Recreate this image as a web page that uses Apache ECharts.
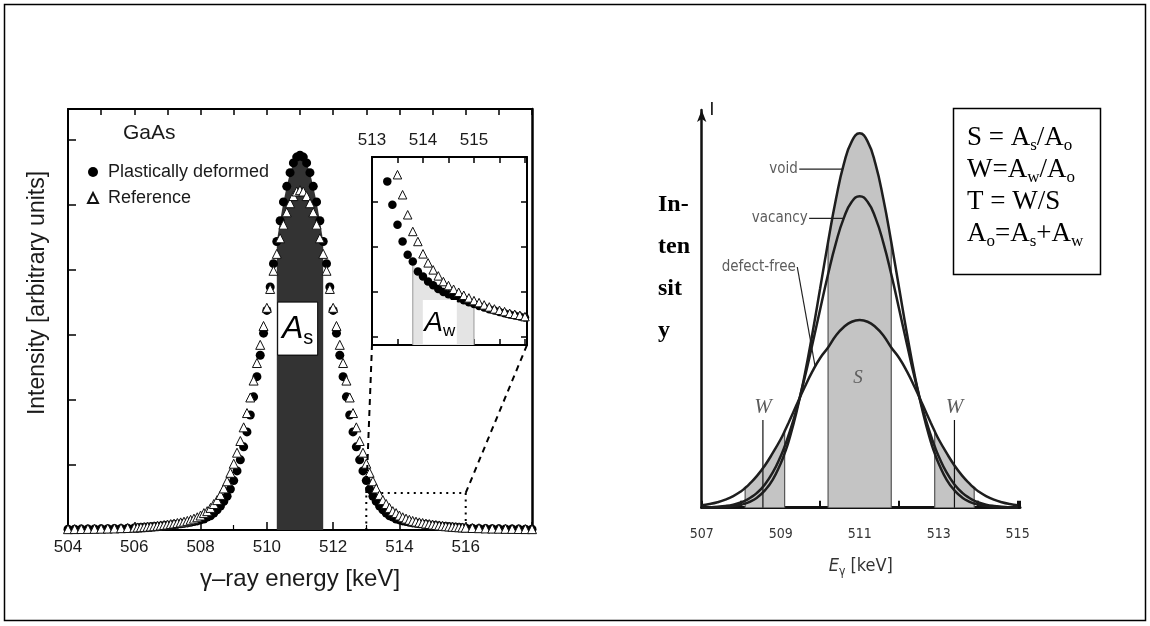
<!DOCTYPE html>
<html><head><meta charset="utf-8">
<script src="https://cdn.jsdelivr.net/npm/echarts@6/dist/echarts.min.js"></script>
<style>html,body{margin:0;padding:0;background:#fff}#c{width:1150px;height:626px}</style>
</head><body><div id="c"></div>
<script>
// ---------------- Left panel: Doppler-broadened 511 keV line (GaAs) ----------------
const energies = [
 504.0,504.2,504.4,504.6,504.8,505.0,505.2,505.4,505.6,505.8,506.0,
 506.1,506.2,506.3,506.4,506.5,506.6,506.7,506.8,506.9,507.0,
 507.1,507.2,507.3,507.4,507.5,507.6,507.7,507.8,507.9,508.0,
 508.1,508.2,508.3,508.4,508.5,508.6,508.7,508.8,508.9,509.0,
 509.1,509.2,509.3,509.4,509.5,509.6,509.7,509.8,509.9,510.0,
 510.1,510.2,510.3,510.4,510.5,510.6,510.7,510.8,510.9,511.0,
 511.1,511.2,511.3,511.4,511.5,511.6,511.7,511.8,511.9,512.0,
 512.1,512.2,512.3,512.4,512.5,512.6,512.7,512.8,512.9,513.0,
 513.1,513.2,513.3,513.4,513.5,513.6,513.7,513.8,513.9,514.0,
 514.1,514.2,514.3,514.4,514.5,514.6,514.7,514.8,514.9,515.0,
 515.1,515.2,515.3,515.4,515.5,515.6,515.7,515.8,515.9,
 516.0,516.2,516.4,516.6,516.8,517.0,517.2,517.4,517.6,517.8,518.0
];
const deformed = [
 0.012,0.013,0.014,0.015,0.016,0.018,0.020,0.022,0.025,0.028,0.032,
 0.035,0.038,0.041,0.045,0.049,0.053,0.057,0.062,0.067,0.073,
 0.078,0.084,0.090,0.096,0.102,0.109,0.118,0.129,0.140,0.155,
 0.17,0.20,0.22,0.26,0.31,0.37,0.44,0.52,0.63,0.76,
 0.91,1.08,1.28,1.51,1.77,2.05,2.36,2.69,3.03,3.38,
 3.74,4.10,4.44,4.76,5.05,5.29,5.50,5.65,5.74,5.77,
 5.74,5.65,5.50,5.29,5.05,4.76,4.44,4.10,3.74,3.38,
 3.03,2.69,2.36,2.05,1.77,1.51,1.28,1.08,0.91,0.76,
 0.63,0.52,0.44,0.37,0.31,0.26,0.22,0.20,0.17,0.155,
 0.140,0.129,0.118,0.109,0.102,0.096,0.090,0.084,0.078,0.073,
 0.067,0.062,0.057,0.053,0.049,0.045,0.041,0.038,0.035,
 0.032,0.028,0.025,0.022,0.020,0.018,0.016,0.015,0.014,0.013,0.012
];
const reference = [
 0.013,0.014,0.015,0.017,0.018,0.020,0.022,0.024,0.028,0.031,0.035,
 0.039,0.042,0.045,0.050,0.054,0.058,0.064,0.070,0.077,0.083,
 0.091,0.099,0.108,0.117,0.128,0.140,0.157,0.175,0.196,0.223,
 0.26,0.29,0.34,0.40,0.46,0.54,0.64,0.75,0.88,1.02,
 1.19,1.37,1.58,1.80,2.04,2.30,2.57,2.85,3.14,3.42,
 3.71,3.99,4.25,4.49,4.70,4.89,5.03,5.14,5.21,5.23,
 5.21,5.14,5.03,4.89,4.70,4.49,4.25,3.99,3.71,3.42,
 3.14,2.85,2.57,2.30,2.04,1.80,1.58,1.37,1.19,1.02,
 0.88,0.75,0.64,0.54,0.46,0.40,0.34,0.29,0.26,0.223,
 0.196,0.175,0.157,0.140,0.128,0.117,0.108,0.099,0.091,0.083,
 0.077,0.070,0.064,0.058,0.054,0.050,0.045,0.042,0.039,
 0.035,0.031,0.028,0.024,0.022,0.020,0.018,0.017,0.015,0.014,0.013
];
const seriesNames = ['Plastically deformed', 'Reference'];
const sWindow = [510.3, 511.7];          // A_s integration window
const wWindowInset = [513.8, 515.0];     // A_w integration window (inset)
const zoomBox = {x0: 513, x1: 516, top: 0.57};
const insetRange = {x0: 513, x1: 516.04, y0: -0.05, y1: 0.513};
const insetTickScale = {min: -0.178, max: 4, splitNumber: 4};
const asLabel = {x: 510.93, y: 3.1};
const awLabel = {x: 514.33};

// ---------------- Right panel: schematic S / W parameters ----------------
const rEnergies = [507.0,507.2,507.4,507.6,507.8,508.0,508.1,508.2,508.4,508.6,508.8,509.0,509.1,509.2,509.4,509.6,509.8,510.0,510.2,510.4,510.6,510.8,511.0,
 511.2,511.4,511.6,511.8,512.0,512.2,512.4,512.6,512.8,512.9,513.0,513.2,513.4,513.6,513.8,513.9,514.0,514.2,514.4,514.6,514.8,515.0];
const voidCurve = [0.0002,0.0004,0.0009,0.0019,0.0039,0.0075,0.0104,0.014,0.025,0.043,0.070,0.110,0.135,0.164,0.237,0.326,0.431,0.545,0.660,0.767,0.854,0.910,0.930,
 0.910,0.854,0.767,0.660,0.545,0.431,0.326,0.237,0.164,0.135,0.110,0.070,0.043,0.025,0.014,0.0104,0.0075,0.0039,0.0019,0.0009,0.0004,0.0002];
const vacancyCurve = [0.0006,0.0012,0.0023,0.0042,0.0077,0.0134,0.0175,0.0227,0.0368,0.0578,0.0875,0.128,0.152,0.180,0.244,0.320,0.405,0.493,0.580,0.658,0.720,0.760,0.774,
 0.760,0.720,0.658,0.580,0.493,0.405,0.320,0.244,0.180,0.152,0.128,0.0875,0.0578,0.0368,0.0227,0.0175,0.0134,0.0077,0.0042,0.0023,0.0012,0.0006];
const defectFreeCurve = [0.006,0.009,0.0135,0.020,0.029,0.041,0.049,0.058,0.079,0.105,0.136,0.170,0.190,0.211,0.255,0.298,0.338,0.372,0.398,0.428,0.449,0.462,0.466,
 0.462,0.449,0.428,0.398,0.372,0.338,0.298,0.255,0.211,0.190,0.170,0.136,0.105,0.079,0.058,0.049,0.041,0.029,0.020,0.0135,0.009,0.006];
const rSWindow = [510.2, 511.8];
const rWWindows = [[508.1, 509.1], [512.9, 513.9]];
const wMarkers = [508.55, 513.4];
const wMarkerTop = 0.218;
const curveLabels = [
  {name: 'void',        at: [509.47, 0.841], to: [510.57, 0.841]},
  {name: 'vacancy',     at: [509.72, 0.719], to: [510.60, 0.719]},
  {name: 'defect-free', at: [509.42, 0.598], to: [509.87, 0.352]}
];
const sLabel = [510.96, 0.321];
const formulaLines = [
  '{t|S = A}{sub|s}{t|/A}{sub|o}',
  '{t|W=A}{sub|w}{t|/A}{sub|o}',
  '{t|T = W/S}',
  '{t|A}{sub|o}{t|=A}{sub|s}{t|+A}{sub|w}'
];

// ---------------- helpers ----------------
const SANS = "'Liberation Sans', Arial, sans-serif";
const NARROW = "'Liberation Sans Narrow','DejaVu Sans Condensed','Liberation Sans',sans-serif";
const SERIF = "'Liberation Serif','Times New Roman',serif";
const pairs = (xs, ys) => xs.map((x, i) => [x, ys[i]]);
const within = (pts, lo, hi) => pts.filter(p => p[0] >= lo - 1e-6 && p[0] <= hi + 1e-6);
const valueAt = (xs, ys, x) => ys[xs.findIndex(e => Math.abs(e - x) < 1e-6)];

const defPts = pairs(energies, deformed);
const refPts = pairs(energies, reference);

const chart = echarts.init(document.getElementById('c'), null, {renderer: 'canvas'});

const frameAxis = (extra) => Object.assign({
  type: 'value', splitLine: {show: false},
  axisLine: {show: true, onZero: false, lineStyle: {color: '#000', width: 2}},
  axisTick: {show: false}, axisLabel: {show: false}
}, extra);
const insetTicks = {show: true, inside: true, length: 6, lineStyle: {color: '#000', width: 1.5}};
const circleStyle = {color: '#000', opacity: 1};
const triangleStyle = {color: '#fff', borderColor: '#111', borderWidth: 1, opacity: 1};

const series = [];
// A_s fill
series.push({type: 'line', xAxisIndex: 0, yAxisIndex: 0, data: within(defPts, sWindow[0], sWindow[1]),
  symbol: 'none', lineStyle: {width: 0}, areaStyle: {color: '#333', opacity: 1}, z: 1, silent: true});
// main scatters
series.push({name: seriesNames[0], type: 'scatter', xAxisIndex: 0, yAxisIndex: 0, data: defPts,
  symbol: 'circle', symbolSize: 9, itemStyle: circleStyle, z: 3});
series.push({name: seriesNames[1], type: 'scatter', xAxisIndex: 0, yAxisIndex: 0, data: refPts,
  symbol: 'triangle', symbolSize: 9, itemStyle: triangleStyle, z: 4});
// zoom box (dotted)
series.push({type: 'line', xAxisIndex: 0, yAxisIndex: 0, symbol: 'none', silent: true, z: 2,
  data: [[zoomBox.x0, 0], [zoomBox.x0, zoomBox.top], [zoomBox.x1, zoomBox.top], [zoomBox.x1, 0]],
  lineStyle: {color: '#000', width: 2, type: [2, 4.5]}});
// inset A_w fill + edges
series.push({type: 'line', xAxisIndex: 2, yAxisIndex: 2, data: within(defPts, wWindowInset[0], wWindowInset[1]),
  symbol: 'none', lineStyle: {width: 0}, areaStyle: {color: '#e4e4e4', opacity: 1, origin: 'start'}, z: 1, silent: true});
wWindowInset.forEach(x => series.push({type: 'line', xAxisIndex: 2, yAxisIndex: 2, symbol: 'none', silent: true, z: 2,
  data: [[x, insetRange.y0], [x, valueAt(energies, deformed, x)]], lineStyle: {color: '#999', width: 1}}));
// inset scatters
series.push({name: seriesNames[0], type: 'scatter', xAxisIndex: 2, yAxisIndex: 2, data: defPts, clip: true,
  symbol: 'circle', symbolSize: 8.5, itemStyle: circleStyle, z: 3});
series.push({name: seriesNames[1], type: 'scatter', xAxisIndex: 2, yAxisIndex: 2, data: refPts, clip: true,
  symbol: 'triangle', symbolSize: 8.5, itemStyle: triangleStyle, z: 4});

// right panel fills
const voidPts = pairs(rEnergies, voidCurve);
const vacPts = pairs(rEnergies, vacancyCurve);
const dfPts = pairs(rEnergies, defectFreeCurve);
series.push({type: 'line', xAxisIndex: 4, yAxisIndex: 4, data: within(voidPts, rSWindow[0], rSWindow[1]), smooth: true,
  symbol: 'none', lineStyle: {width: 0}, areaStyle: {color: '#c4c4c4', opacity: 1}, z: 1, silent: true});
rWWindows.forEach(w => series.push({type: 'line', xAxisIndex: 4, yAxisIndex: 4, data: within(dfPts, w[0], w[1]), smooth: true,
  symbol: 'none', lineStyle: {width: 0}, areaStyle: {color: '#c4c4c4', opacity: 1}, z: 1, silent: true}));
// window edge lines
rSWindow.forEach(x => series.push({type: 'line', xAxisIndex: 4, yAxisIndex: 4, symbol: 'none', silent: true, z: 2,
  data: [[x, 0], [x, valueAt(rEnergies, voidCurve, x)]], lineStyle: {color: '#555', width: 1.2}}));
rWWindows.forEach(w => w.forEach(x => series.push({type: 'line', xAxisIndex: 4, yAxisIndex: 4, symbol: 'none', silent: true, z: 2,
  data: [[x, 0], [x, valueAt(rEnergies, defectFreeCurve, x)]], lineStyle: {color: '#555', width: 1.2}})));
// curves
[voidPts, vacPts, dfPts].forEach(d => series.push({type: 'line', xAxisIndex: 4, yAxisIndex: 4, data: d, smooth: true,
  symbol: 'none', lineStyle: {color: '#1e1e1e', width: 2.5}, z: 3, silent: true}));
// W markers
wMarkers.forEach(x => series.push({type: 'line', xAxisIndex: 4, yAxisIndex: 4, symbol: 'none', silent: true, z: 2,
  data: [[x, 0], [x, wMarkerTop]], lineStyle: {color: '#111', width: 1.2}}));
series.push({type: 'scatter', xAxisIndex: 4, yAxisIndex: 4, symbolSize: 1, itemStyle: {color: 'rgba(0,0,0,0)'}, silent: true, z: 5,
  data: wMarkers.map(x => ({name: 'W', value: [x, wMarkerTop]})),
  label: {show: true, formatter: '{b}', position: 'top', distance: 1, fontFamily: SERIF, fontStyle: 'italic', fontSize: 21, color: '#333'}});
// curve label pointers
curveLabels.forEach(c => series.push({type: 'line', xAxisIndex: 4, yAxisIndex: 4, symbol: 'none', silent: true, z: 2,
  data: [c.at, c.to], lineStyle: {color: '#222', width: 1.2}}));
series.push({type: 'scatter', xAxisIndex: 4, yAxisIndex: 4, symbolSize: 1, itemStyle: {color: 'rgba(0,0,0,0)'}, silent: true, z: 5,
  data: curveLabels.map(c => ({name: c.name, value: c.at})),
  label: {show: true, formatter: '{b}', position: 'left', distance: 1, fontFamily: NARROW, fontSize: 15, color: '#333'}});
series.push({type: 'scatter', xAxisIndex: 4, yAxisIndex: 4, symbolSize: 1, itemStyle: {color: 'rgba(0,0,0,0)'}, silent: true, z: 5,
  data: [{name: 'S', value: sLabel}],
  label: {show: true, formatter: '{b}', position: 'inside', fontFamily: SERIF, fontStyle: 'italic', fontSize: 19, color: '#444'}});

const option = {
  animation: false,
  backgroundColor: '#fff',
  textStyle: {fontFamily: SANS},
  title: {text: 'GaAs', left: 123, top: 123, padding: 0, textStyle: {fontSize: 21, fontWeight: 'normal', color: '#1a1a1a', fontFamily: SANS}},
  legend: {data: seriesNames, orient: 'vertical', left: 82, top: 157, itemWidth: 10, itemHeight: 10, itemGap: 6,
    selectedMode: false, textStyle: {fontSize: 18, lineHeight: 20, color: '#1a1a1a', fontFamily: SANS, padding: [0, 0, 0, 5]}},
  grid: [
    {left: 68, top: 109, width: 464, height: 421},
    {left: 372, top: 157, width: 155, height: 188, show: true, backgroundColor: '#fff', borderWidth: 0},
    {left: 701.7, top: 110, width: 318.3, height: 397.7}
  ],
  xAxis: [
    frameAxis({gridIndex: 0, position: 'bottom', min: 504, max: 518, interval: 2,
      axisTick: {show: true, inside: true, length: 8, lineStyle: {color: '#000', width: 1.5}},
      minorTick: {show: true, splitNumber: 2, length: 5, lineStyle: {color: '#000', width: 1.2}},
      axisLabel: {show: true, fontSize: 17, margin: 9, color: '#1a1a1a', fontFamily: SANS, formatter: v => (v <= 516 ? v : '')},
      name: 'γ–ray energy [keV]', nameLocation: 'middle', nameGap: 37,
      nameTextStyle: {fontSize: 24, color: '#1a1a1a', fontFamily: SANS}}),
    frameAxis({gridIndex: 0, position: 'top', min: 504, max: 518, interval: 1,
      axisTick: {show: true, inside: true, length: 6, lineStyle: {color: '#000', width: 1.5}}}),
    frameAxis({gridIndex: 1, position: 'top', min: insetRange.x0, max: insetRange.x1, interval: 0.5,
      axisTick: insetTicks,
      axisLabel: {show: true, fontSize: 17, margin: 8, color: '#1a1a1a', fontFamily: SANS,
        formatter: v => (Math.abs(v - Math.round(v)) < 1e-6 && v < 515.5 ? Math.round(v) : '')}}),
    frameAxis({gridIndex: 1, position: 'bottom', min: insetRange.x0, max: insetRange.x1, interval: 0.5, axisTick: insetTicks}),
    frameAxis({gridIndex: 2, position: 'bottom', min: 507, max: 515.06, interval: 1,
      axisLine: {show: true, onZero: false, lineStyle: {color: '#111', width: 3}},
      axisTick: {show: true, inside: true, length: 7, lineStyle: {color: '#111', width: 2}},
      axisLabel: {show: true, fontSize: 14, margin: 20, color: '#333', fontFamily: NARROW,
        formatter: v => (Math.abs((v - 507) % 2) < 1e-6 ? v : '')},
      name: '{e|E}{g|γ}{n| [keV]}', nameLocation: 'middle', nameGap: 48,
      nameTextStyle: {rich: {
        e: {fontSize: 18, fontStyle: 'italic', fontFamily: NARROW, color: '#333', lineHeight: 22, verticalAlign: 'middle'},
        g: {fontSize: 12, fontFamily: NARROW, color: '#333', lineHeight: 12, verticalAlign: 'bottom'},
        n: {fontSize: 18, fontFamily: NARROW, color: '#333', lineHeight: 22, verticalAlign: 'middle'}}}})
  ],
  yAxis: [
    frameAxis({gridIndex: 0, min: 0, max: 6.48, interval: 1,
      axisTick: {show: true, inside: true, length: 8, lineStyle: {color: '#000', width: 1.5}}}),
    frameAxis({gridIndex: 0, position: 'right', min: 0, max: 6.48,
      axisLine: {show: true, onZero: false, lineStyle: {color: '#000', width: 2.5}}}),
    // inset data axis (frame only)
    frameAxis({gridIndex: 1, min: insetRange.y0, max: insetRange.y1}),
    // inset tick axes (left/right frames)
    frameAxis({gridIndex: 1, position: 'right', min: insetTickScale.min, max: insetTickScale.max, splitNumber: insetTickScale.splitNumber, axisTick: insetTicks}),
    frameAxis({gridIndex: 2, min: 0, max: 0.988,
      axisLine: {show: true, onZero: false, symbol: ['none', 'arrow'], symbolSize: [7, 12], lineStyle: {color: '#111', width: 2.5}}}),
    frameAxis({gridIndex: 1, position: 'left', min: insetTickScale.min, max: insetTickScale.max, splitNumber: insetTickScale.splitNumber, axisTick: insetTicks})
  ],
  series: series
};
chart.setOption(option);

// ---------- annotations positioned through the axes ----------
const pMain = v => chart.convertToPixel({xAxisIndex: 0, yAxisIndex: 0}, v);
const pInset = v => chart.convertToPixel({xAxisIndex: 2, yAxisIndex: 2}, v);
const p1 = pMain([zoomBox.x0, zoomBox.top]), q1 = pInset([insetRange.x0, insetRange.y0]);
const p2 = pMain([zoomBox.x1, zoomBox.top]), q2 = pInset([insetRange.x1, insetRange.y0]);
const cAs = pMain([asLabel.x, asLabel.y]);
const bAw = pInset([awLabel.x, insetRange.y0]);

chart.setOption({graphic: [
  {type: 'rect', z: 100, silent: true, shape: {x: 4.5, y: 4.5, width: 1141, height: 616}, style: {fill: 'none', stroke: '#000', lineWidth: 1.5}},
  {type: 'line', z: 100, silent: true, shape: {x1: p1[0], y1: p1[1], x2: q1[0], y2: q1[1]}, style: {stroke: '#000', lineWidth: 2, lineDash: [6, 5]}},
  {type: 'line', z: 100, silent: true, shape: {x1: p2[0], y1: p2[1], x2: q2[0], y2: q2[1]}, style: {stroke: '#000', lineWidth: 2, lineDash: [6, 5]}},
  {type: 'rect', z: 100, silent: true, shape: {x: cAs[0] - 20, y: cAs[1] - 26.5, width: 40, height: 53}, style: {fill: '#fff', stroke: '#000', lineWidth: 1}},
  {type: 'text', z: 101, silent: true, x: cAs[0], y: cAs[1], style: {text: '{a|A}{s|s}', align: 'center', verticalAlign: 'middle',
    rich: {a: {fontSize: 32, fontStyle: 'italic', fontFamily: SANS, fill: '#000', lineHeight: 40},
           s: {fontSize: 20, fontFamily: SANS, fill: '#000', lineHeight: 18, verticalAlign: 'bottom'}}}},
  {type: 'rect', z: 100, silent: true, shape: {x: bAw[0] - 17, y: bAw[1] - 45, width: 34, height: 44}, style: {fill: '#fff'}},
  {type: 'text', z: 101, silent: true, x: bAw[0], y: bAw[1] - 22, style: {text: '{a|A}{w|w}', align: 'center', verticalAlign: 'middle',
    rich: {a: {fontSize: 28, fontStyle: 'italic', fontFamily: SANS, fill: '#000', lineHeight: 34},
           w: {fontSize: 17, fontFamily: SANS, fill: '#000', lineHeight: 14, verticalAlign: 'bottom'}}}},
  {type: 'text', z: 100, silent: true, x: 38, y: 293, rotation: Math.PI / 2,
    style: {text: 'Intensity [arbitrary units]', align: 'center', verticalAlign: 'middle', fontSize: 23, fontFamily: SANS, fill: '#1a1a1a'}},
  {type: 'text', z: 100, silent: true, x: 712, y: 110,
    style: {text: 'I', align: 'center', verticalAlign: 'middle', fontSize: 19, fontFamily: SANS, fill: '#222'}},
  {type: 'text', z: 100, silent: true, x: 658, y: 184,
    style: {text: 'In-\nten\nsit\ny', align: 'left', verticalAlign: 'top', fontSize: 24, fontWeight: 'bold', fontFamily: SERIF, lineHeight: 42, fill: '#000'}},
  {type: 'rect', z: 100, silent: true, shape: {x: 953.5, y: 108.5, width: 147, height: 166}, style: {fill: '#fff', stroke: '#000', lineWidth: 1.5}},
  {type: 'text', z: 101, silent: true, x: 967, y: 122,
    style: {text: formulaLines.join('\n'), align: 'left', verticalAlign: 'top',
      rich: {t: {fontSize: 27, fontFamily: SERIF, fill: '#000', lineHeight: 32, verticalAlign: 'middle'},
             sub: {fontSize: 17, fontFamily: SERIF, fill: '#000', lineHeight: 16, verticalAlign: 'bottom'}}}}
]});
</script>
</body></html>
